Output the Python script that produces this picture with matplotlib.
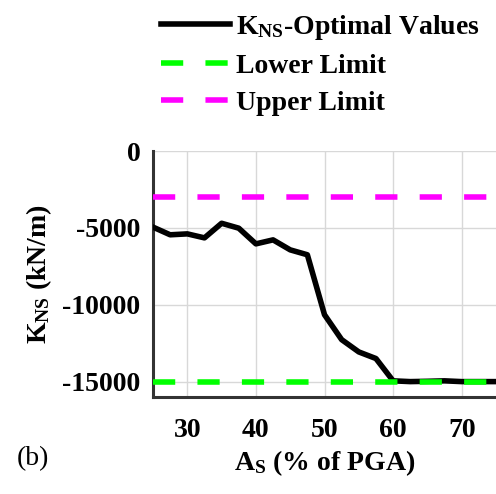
import matplotlib
matplotlib.use("Agg")
from matplotlib import pyplot as plt

# data
a_s = [25, 27.5, 30, 32.5, 35, 37.5, 40, 42.5, 45, 47.5, 50, 52.5, 55, 57.5, 60,
       62.5, 65, 67.5, 70, 72.5, 75]
k_ns = [-4950, -5450, -5390, -5650, -4700, -5020, -6040, -5780, -6430, -6750, -10650,
        -12270, -13070, -13500, -14950, -15000, -14980, -14950, -15000, -15000, -15000]
lower_limit = -15000
upper_limit = -3000
x_ticks = [30, 40, 50, 60, 70]
y_ticks = [-15000, -10000, -5000, 0]

plt.rcParams['font.family'] = ['Liberation Serif', 'DejaVu Serif']
plt.rcParams['font.weight'] = 'bold'
plt.rcParams['axes.unicode_minus'] = False
plt.rcParams['mathtext.fontset'] = 'custom'
plt.rcParams['mathtext.rm'] = 'Liberation Serif:bold'
plt.rcParams['mathtext.it'] = 'Liberation Serif:bold'
plt.rcParams['mathtext.bf'] = 'Liberation Serif:bold'

fs = 20
fig = plt.figure(figsize=(4.96, 4.94), dpi=100)
ax = fig.add_axes([0.3085, 0.1964, 0.6915, 0.4979])

ax.plot(a_s, k_ns, color='black', lw=4, label=r'$\mathrm{K_{NS}}$-Optimal Values', zorder=3)
ax.axhline(lower_limit, color='#00ff00', lw=4, dashes=(4, 4), label='Lower Limit', zorder=4)
ax.axhline(upper_limit, color='#ff00ff', lw=4, dashes=(4, 4), label='Upper Limit', zorder=4)

ax.set_xlim(25, 75)
ax.set_ylim(-16000, 0)
ax.set_xticks(x_ticks)
ax.set_yticks(y_ticks)
ax.grid(True, color='#d8d8d8', lw=1)
ax.set_axisbelow(True)
for side in ['top', 'right']:
    ax.spines[side].set_visible(False)
for side in ['left', 'bottom']:
    ax.spines[side].set_color('#333333')
    ax.spines[side].set_linewidth(2.2)
ax.tick_params(length=0, labelsize=fs)
ax.tick_params(axis='x', pad=15)
ax.tick_params(axis='y', pad=9)
for lab in ax.get_xticklabels() + ax.get_yticklabels():
    lab.set_fontweight('bold')

ax.set_xlabel(r'$\mathrm{A_S}$ (% of PGA)', fontsize=fs, fontweight='bold', labelpad=4)
ax.set_ylabel(r'$\mathrm{K_{NS}}$ (kN/m)', fontsize=fs, fontweight='bold', labelpad=6)
fig.text(0.034, 0.072, '(b)', fontsize=fs, fontweight='normal', va='center', ha='left')

fig.legend(loc='upper left', bbox_to_anchor=(0.318, 0.98), frameon=False, fontsize=fs,
           handlelength=2.5, handletextpad=0.22, labelspacing=0.42, borderpad=0.1,
           borderaxespad=0)

fig.savefig('out.png', dpi=100)
